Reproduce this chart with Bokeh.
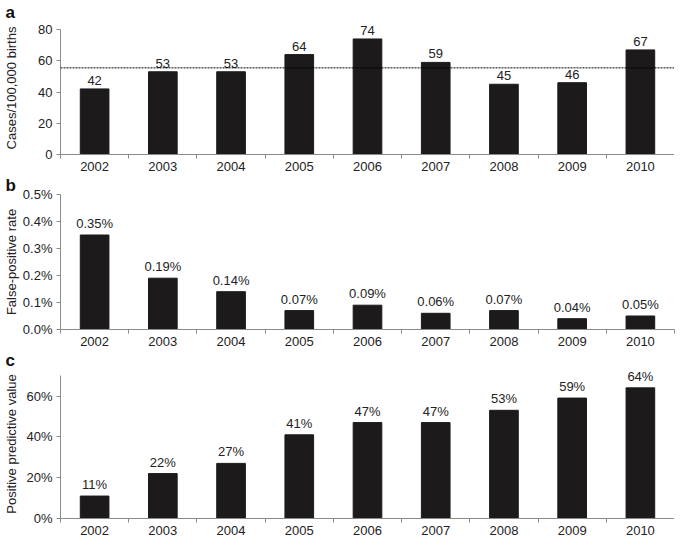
from bokeh.plotting import figure
from bokeh.models import (ColumnDataSource, FixedTicker, Span, PrintfTickFormatter,
                          Range1d)
from bokeh.core.properties import value
from bokeh.layouts import column
from bokeh.embed import file_html
from bokeh.resources import INLINE

years = [2002, 2003, 2004, 2005, 2006, 2007, 2008, 2009, 2010]
cases = [42, 53, 53, 64, 74, 59, 45, 46, 67]
cases_mean = 55.5
fpr = [0.35, 0.19, 0.14, 0.07, 0.09, 0.06, 0.07, 0.04, 0.05]
ppv = [11, 22, 27, 41, 47, 47, 53, 59, 64]

cases_labels = [str(v) for v in cases]
fpr_labels = [f"{v:.2f}%" for v in fpr]
ppv_labels = [f"{v}%" for v in ppv]

FONT = "Liberation Sans"
AXC = "#8a8a8a"
TXT = "#222222"


def panel(letter, vals, labels, ymax, ytop, yticks, fmt, ylabel, fh, lab_standoff):
    p = figure(frame_width=614, frame_height=fh, output_backend="svg",
               toolbar_location=None, title=letter,
               x_range=Range1d(years[0] - 0.5, years[-1] + 0.5),
               y_range=Range1d(0, ytop))
    p.min_border_left = 54
    p.min_border_right = 1
    p.min_border_top = 0
    p.min_border_bottom = 0
    p.outline_line_color = None
    p.xgrid.visible = False
    p.ygrid.visible = False
    p.title.text_font = FONT
    p.title.text_font_style = "bold"
    p.title.text_font_size = "17px"
    p.title.text_color = "#111111"
    p.title.align = "left"
    p.title.offset = -55
    p.title.standoff = 0
    src = ColumnDataSource(dict(x=years, top=vals, label=labels))
    p.vbar(x="x", top="top", width=0.42, source=src, fill_color="#1c1a1a",
           line_color="#1c1a1a")
    p.text(x="x", y="top", text="label", source=src, text_align="center",
           text_baseline="bottom", y_offset=-4, text_font=value(FONT),
           text_font_size="13px", text_color=TXT)
    xa = p.xaxis[0]
    xa.ticker = FixedTicker(ticks=years,
                            minor_ticks=[y - 0.5 for y in years] + [years[-1] + 0.5])
    xa.major_tick_out = 0
    xa.major_tick_in = 0
    xa.minor_tick_out = 4
    xa.minor_tick_in = 0
    xa.minor_tick_line_color = AXC
    xa.axis_line_color = AXC
    xa.major_label_text_font = FONT
    xa.major_label_text_font_size = "13px"
    xa.major_label_text_color = TXT
    xa.major_label_standoff = 3
    ya = p.yaxis[0]
    ya.bounds = (0, ymax)
    ya.ticker = FixedTicker(ticks=yticks)
    ya.formatter = PrintfTickFormatter(format=fmt)
    ya.minor_tick_line_color = None
    ya.major_tick_out = 4
    ya.major_tick_in = 0
    ya.major_tick_line_color = AXC
    ya.axis_line_color = AXC
    ya.major_label_text_font = FONT
    ya.major_label_text_font_size = "13px"
    ya.major_label_text_color = TXT
    ya.major_label_standoff = 4
    ya.axis_label = ylabel
    ya.axis_label_text_font = FONT
    ya.axis_label_text_font_size = "13px"
    ya.axis_label_text_font_style = "normal"
    ya.axis_label_text_color = TXT
    ya.axis_label_standoff = lab_standoff
    return p


pa = panel("a", cases, cases_labels, 80, 85.2, [0, 20, 40, 60, 80], "%d",
           "Cases/100,000 births", 133, 16)
pa.add_layout(Span(location=cases_mean, dimension="width", line_color="black",
                   line_width=1, line_dash="2 1"))
pb = panel("b", fpr, fpr_labels, 0.5, 0.5, [0, 0.1, 0.2, 0.3, 0.4, 0.5], "%.1f%%",
           "False-positive rate", 135, 1)
pc = panel("c", ppv, ppv_labels, 70, 73.0, [0, 20, 40, 60], "%d%%",
           "Positive predictive value", 149, 4)

layout = column(pa, pb, pc, spacing=0)
open("out.html", "w").write(file_html(layout, INLINE))
